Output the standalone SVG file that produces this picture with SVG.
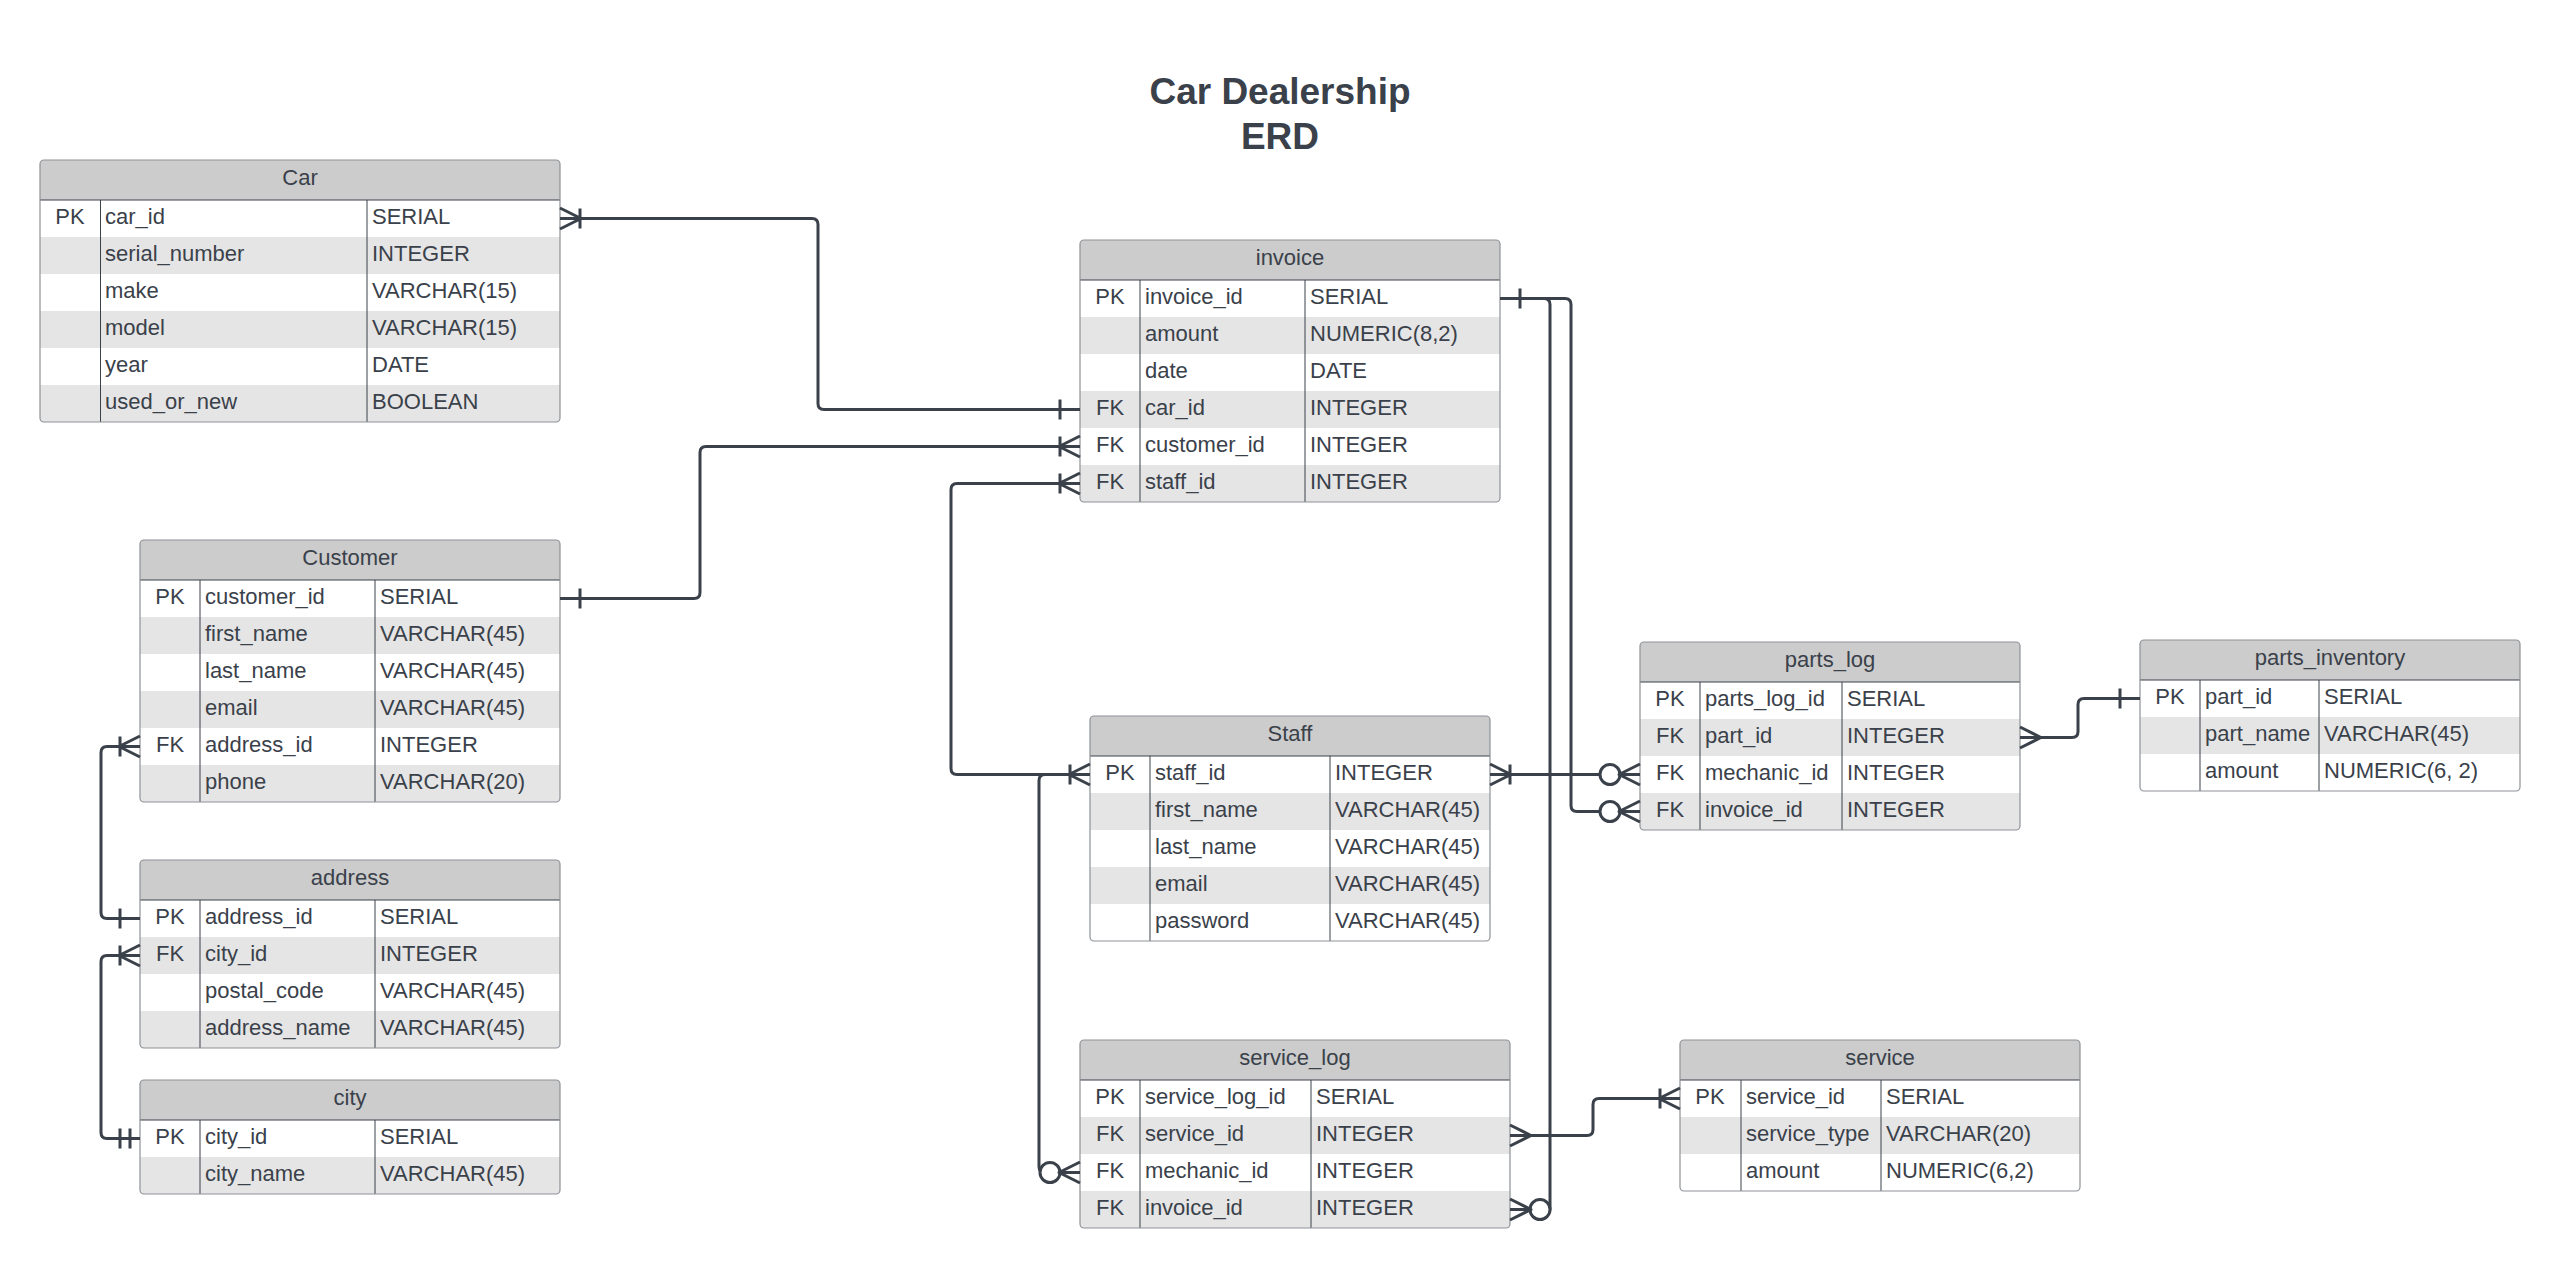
<svg xmlns="http://www.w3.org/2000/svg" width="2560" height="1268" viewBox="0 0 2560 1268">
<style>
.bg{fill:#fff;stroke:none}
.ol{fill:none;stroke:#8e9297;stroke-width:1.2}
.hd{fill:#cccccc}
.st{fill:#e5e5e5}
.dv{stroke:#3a414a;stroke-width:1}
.t{font-family:"Liberation Sans",Arial,sans-serif;font-size:22px;fill:#3a414a}
.c{text-anchor:middle}
.ti{font-family:"Liberation Sans",Arial,sans-serif;font-size:37px;font-weight:bold;fill:#3a414a;text-anchor:middle}
.cn{fill:none;stroke:#3a414a;stroke-width:3;stroke-linejoin:round}
.ci{fill:#fff;stroke:#3a414a;stroke-width:3}
</style>
<rect width="2560" height="1268" fill="#fff"/>
<g id="title">
<text class="ti" x="1280" y="104">Car Dealership</text>
<text class="ti" x="1280" y="149">ERD</text>
</g>

<g id="car">
<rect class="bg" x="40" y="160" width="520" height="262" rx="4"/>
<path class="hd" d="M40,200 V164 Q40,160 44,160 H556 Q560,160 560,164 V200 Z"/>
<rect class="st" x="40" y="237" width="520" height="37"/>
<rect class="st" x="40" y="311" width="520" height="37"/>
<path class="st" d="M40,385 H560 V418 Q560,422 556,422 H44 Q40,422 40,418 Z"/>
<line class="dv" x1="40" y1="200" x2="560" y2="200"/>
<line class="dv" x1="100.5" y1="200" x2="100.5" y2="422"/>
<line class="dv" x1="367" y1="200" x2="367" y2="422"/>
<rect class="ol" x="40" y="160" width="520" height="262" rx="4"/>
<text class="t c" x="300" y="185">Car</text>
<text class="t c" x="70" y="224">PK</text><text class="t" x="105" y="224">car_id</text><text class="t" x="372" y="224">SERIAL</text>
<text class="t" x="105" y="261">serial_number</text><text class="t" x="372" y="261">INTEGER</text>
<text class="t" x="105" y="298">make</text><text class="t" x="372" y="298">VARCHAR(15)</text>
<text class="t" x="105" y="335">model</text><text class="t" x="372" y="335">VARCHAR(15)</text>
<text class="t" x="105" y="372">year</text><text class="t" x="372" y="372">DATE</text>
<text class="t" x="105" y="409">used_or_new</text><text class="t" x="372" y="409">BOOLEAN</text>
</g>

<g id="customer">
<rect class="bg" x="140" y="540" width="420" height="262" rx="4"/>
<path class="hd" d="M140,580 V544 Q140,540 144,540 H556 Q560,540 560,544 V580 Z"/>
<rect class="st" x="140" y="617" width="420" height="37"/>
<rect class="st" x="140" y="691" width="420" height="37"/>
<path class="st" d="M140,765 H560 V798 Q560,802 556,802 H144 Q140,802 140,798 Z"/>
<line class="dv" x1="140" y1="580" x2="560" y2="580"/>
<line class="dv" x1="200" y1="580" x2="200" y2="802"/>
<line class="dv" x1="375" y1="580" x2="375" y2="802"/>
<rect class="ol" x="140" y="540" width="420" height="262" rx="4"/>
<text class="t c" x="350" y="565">Customer</text>
<text class="t c" x="170" y="604">PK</text><text class="t" x="205" y="604">customer_id</text><text class="t" x="380" y="604">SERIAL</text>
<text class="t" x="205" y="641">first_name</text><text class="t" x="380" y="641">VARCHAR(45)</text>
<text class="t" x="205" y="678">last_name</text><text class="t" x="380" y="678">VARCHAR(45)</text>
<text class="t" x="205" y="715">email</text><text class="t" x="380" y="715">VARCHAR(45)</text>
<text class="t c" x="170" y="752">FK</text><text class="t" x="205" y="752">address_id</text><text class="t" x="380" y="752">INTEGER</text>
<text class="t" x="205" y="789">phone</text><text class="t" x="380" y="789">VARCHAR(20)</text>
</g>

<g id="address">
<rect class="bg" x="140" y="860" width="420" height="188" rx="4"/>
<path class="hd" d="M140,900 V864 Q140,860 144,860 H556 Q560,860 560,864 V900 Z"/>
<rect class="st" x="140" y="937" width="420" height="37"/>
<path class="st" d="M140,1011 H560 V1044 Q560,1048 556,1048 H144 Q140,1048 140,1044 Z"/>
<line class="dv" x1="140" y1="900" x2="560" y2="900"/>
<line class="dv" x1="200" y1="900" x2="200" y2="1048"/>
<line class="dv" x1="375" y1="900" x2="375" y2="1048"/>
<rect class="ol" x="140" y="860" width="420" height="188" rx="4"/>
<text class="t c" x="350" y="885">address</text>
<text class="t c" x="170" y="924">PK</text><text class="t" x="205" y="924">address_id</text><text class="t" x="380" y="924">SERIAL</text>
<text class="t c" x="170" y="961">FK</text><text class="t" x="205" y="961">city_id</text><text class="t" x="380" y="961">INTEGER</text>
<text class="t" x="205" y="998">postal_code</text><text class="t" x="380" y="998">VARCHAR(45)</text>
<text class="t" x="205" y="1035">address_name</text><text class="t" x="380" y="1035">VARCHAR(45)</text>
</g>

<g id="city">
<rect class="bg" x="140" y="1080" width="420" height="114" rx="4"/>
<path class="hd" d="M140,1120 V1084 Q140,1080 144,1080 H556 Q560,1080 560,1084 V1120 Z"/>
<path class="st" d="M140,1157 H560 V1190 Q560,1194 556,1194 H144 Q140,1194 140,1190 Z"/>
<line class="dv" x1="140" y1="1120" x2="560" y2="1120"/>
<line class="dv" x1="200" y1="1120" x2="200" y2="1194"/>
<line class="dv" x1="375" y1="1120" x2="375" y2="1194"/>
<rect class="ol" x="140" y="1080" width="420" height="114" rx="4"/>
<text class="t c" x="350" y="1105">city</text>
<text class="t c" x="170" y="1144">PK</text><text class="t" x="205" y="1144">city_id</text><text class="t" x="380" y="1144">SERIAL</text>
<text class="t" x="205" y="1181">city_name</text><text class="t" x="380" y="1181">VARCHAR(45)</text>
</g>

<g id="invoice">
<rect class="bg" x="1080" y="240" width="420" height="262" rx="4"/>
<path class="hd" d="M1080,280 V244 Q1080,240 1084,240 H1496 Q1500,240 1500,244 V280 Z"/>
<rect class="st" x="1080" y="317" width="420" height="37"/>
<rect class="st" x="1080" y="391" width="420" height="37"/>
<path class="st" d="M1080,465 H1500 V498 Q1500,502 1496,502 H1084 Q1080,502 1080,498 Z"/>
<line class="dv" x1="1080" y1="280" x2="1500" y2="280"/>
<line class="dv" x1="1140" y1="280" x2="1140" y2="502"/>
<line class="dv" x1="1305" y1="280" x2="1305" y2="502"/>
<rect class="ol" x="1080" y="240" width="420" height="262" rx="4"/>
<text class="t c" x="1290" y="265">invoice</text>
<text class="t c" x="1110" y="304">PK</text><text class="t" x="1145" y="304">invoice_id</text><text class="t" x="1310" y="304">SERIAL</text>
<text class="t" x="1145" y="341">amount</text><text class="t" x="1310" y="341">NUMERIC(8,2)</text>
<text class="t" x="1145" y="378">date</text><text class="t" x="1310" y="378">DATE</text>
<text class="t c" x="1110" y="415">FK</text><text class="t" x="1145" y="415">car_id</text><text class="t" x="1310" y="415">INTEGER</text>
<text class="t c" x="1110" y="452">FK</text><text class="t" x="1145" y="452">customer_id</text><text class="t" x="1310" y="452">INTEGER</text>
<text class="t c" x="1110" y="489">FK</text><text class="t" x="1145" y="489">staff_id</text><text class="t" x="1310" y="489">INTEGER</text>
</g>

<g id="staff">
<rect class="bg" x="1090" y="716" width="400" height="225" rx="4"/>
<path class="hd" d="M1090,756 V720 Q1090,716 1094,716 H1486 Q1490,716 1490,720 V756 Z"/>
<rect class="st" x="1090" y="793" width="400" height="37"/>
<rect class="st" x="1090" y="867" width="400" height="37"/>
<line class="dv" x1="1090" y1="756" x2="1490" y2="756"/>
<line class="dv" x1="1150" y1="756" x2="1150" y2="941"/>
<line class="dv" x1="1330" y1="756" x2="1330" y2="941"/>
<rect class="ol" x="1090" y="716" width="400" height="225" rx="4"/>
<text class="t c" x="1290" y="741">Staff</text>
<text class="t c" x="1120" y="780">PK</text><text class="t" x="1155" y="780">staff_id</text><text class="t" x="1335" y="780">INTEGER</text>
<text class="t" x="1155" y="817">first_name</text><text class="t" x="1335" y="817">VARCHAR(45)</text>
<text class="t" x="1155" y="854">last_name</text><text class="t" x="1335" y="854">VARCHAR(45)</text>
<text class="t" x="1155" y="891">email</text><text class="t" x="1335" y="891">VARCHAR(45)</text>
<text class="t" x="1155" y="928">password</text><text class="t" x="1335" y="928">VARCHAR(45)</text>
</g>

<g id="service_log">
<rect class="bg" x="1080" y="1040" width="430" height="188" rx="4"/>
<path class="hd" d="M1080,1080 V1044 Q1080,1040 1084,1040 H1506 Q1510,1040 1510,1044 V1080 Z"/>
<rect class="st" x="1080" y="1117" width="430" height="37"/>
<path class="st" d="M1080,1191 H1510 V1224 Q1510,1228 1506,1228 H1084 Q1080,1228 1080,1224 Z"/>
<line class="dv" x1="1080" y1="1080" x2="1510" y2="1080"/>
<line class="dv" x1="1140" y1="1080" x2="1140" y2="1228"/>
<line class="dv" x1="1311" y1="1080" x2="1311" y2="1228"/>
<rect class="ol" x="1080" y="1040" width="430" height="188" rx="4"/>
<text class="t c" x="1295" y="1065">service_log</text>
<text class="t c" x="1110" y="1104">PK</text><text class="t" x="1145" y="1104">service_log_id</text><text class="t" x="1316" y="1104">SERIAL</text>
<text class="t c" x="1110" y="1141">FK</text><text class="t" x="1145" y="1141">service_id</text><text class="t" x="1316" y="1141">INTEGER</text>
<text class="t c" x="1110" y="1178">FK</text><text class="t" x="1145" y="1178">mechanic_id</text><text class="t" x="1316" y="1178">INTEGER</text>
<text class="t c" x="1110" y="1215">FK</text><text class="t" x="1145" y="1215">invoice_id</text><text class="t" x="1316" y="1215">INTEGER</text>
</g>

<g id="service">
<rect class="bg" x="1680" y="1040" width="400" height="151" rx="4"/>
<path class="hd" d="M1680,1080 V1044 Q1680,1040 1684,1040 H2076 Q2080,1040 2080,1044 V1080 Z"/>
<rect class="st" x="1680" y="1117" width="400" height="37"/>
<line class="dv" x1="1680" y1="1080" x2="2080" y2="1080"/>
<line class="dv" x1="1741" y1="1080" x2="1741" y2="1191"/>
<line class="dv" x1="1881" y1="1080" x2="1881" y2="1191"/>
<rect class="ol" x="1680" y="1040" width="400" height="151" rx="4"/>
<text class="t c" x="1880" y="1065">service</text>
<text class="t c" x="1710" y="1104">PK</text><text class="t" x="1746" y="1104">service_id</text><text class="t" x="1886" y="1104">SERIAL</text>
<text class="t" x="1746" y="1141">service_type</text><text class="t" x="1886" y="1141">VARCHAR(20)</text>
<text class="t" x="1746" y="1178">amount</text><text class="t" x="1886" y="1178">NUMERIC(6,2)</text>
</g>

<g id="parts_log">
<rect class="bg" x="1640" y="642" width="380" height="188" rx="4"/>
<path class="hd" d="M1640,682 V646 Q1640,642 1644,642 H2016 Q2020,642 2020,646 V682 Z"/>
<rect class="st" x="1640" y="719" width="380" height="37"/>
<path class="st" d="M1640,793 H2020 V826 Q2020,830 2016,830 H1644 Q1640,830 1640,826 Z"/>
<line class="dv" x1="1640" y1="682" x2="2020" y2="682"/>
<line class="dv" x1="1700" y1="682" x2="1700" y2="830"/>
<line class="dv" x1="1842" y1="682" x2="1842" y2="830"/>
<rect class="ol" x="1640" y="642" width="380" height="188" rx="4"/>
<text class="t c" x="1830" y="667">parts_log</text>
<text class="t c" x="1670" y="706">PK</text><text class="t" x="1705" y="706">parts_log_id</text><text class="t" x="1847" y="706">SERIAL</text>
<text class="t c" x="1670" y="743">FK</text><text class="t" x="1705" y="743">part_id</text><text class="t" x="1847" y="743">INTEGER</text>
<text class="t c" x="1670" y="780">FK</text><text class="t" x="1705" y="780">mechanic_id</text><text class="t" x="1847" y="780">INTEGER</text>
<text class="t c" x="1670" y="817">FK</text><text class="t" x="1705" y="817">invoice_id</text><text class="t" x="1847" y="817">INTEGER</text>
</g>

<g id="parts_inventory">
<rect class="bg" x="2140" y="640" width="380" height="151" rx="4"/>
<path class="hd" d="M2140,680 V644 Q2140,640 2144,640 H2516 Q2520,640 2520,644 V680 Z"/>
<rect class="st" x="2140" y="717" width="380" height="37"/>
<line class="dv" x1="2140" y1="680" x2="2520" y2="680"/>
<line class="dv" x1="2200" y1="680" x2="2200" y2="791"/>
<line class="dv" x1="2319" y1="680" x2="2319" y2="791"/>
<rect class="ol" x="2140" y="640" width="380" height="151" rx="4"/>
<text class="t c" x="2330" y="665">parts_inventory</text>
<text class="t c" x="2170" y="704">PK</text><text class="t" x="2205" y="704">part_id</text><text class="t" x="2324" y="704">SERIAL</text>
<text class="t" x="2205" y="741">part_name</text><text class="t" x="2324" y="741">VARCHAR(45)</text>
<text class="t" x="2205" y="778">amount</text><text class="t" x="2324" y="778">NUMERIC(6, 2)</text>
</g>

<g id="connectors">
<!-- Car - invoice -->
<path class="cn" d="M560,218.5 H812 Q818,218.5 818,224.5 V403.5 Q818,409.5 824,409.5 H1080"/>
<path class="cn" d="M560,208 L581,218.5 L560,229 M580,208.5 V228.5"/>
<path class="cn" d="M1060,399.5 V419.5"/>
<!-- Customer - invoice -->
<path class="cn" d="M560,598.5 H694 Q700,598.5 700,592.5 V452.5 Q700,446.5 706,446.5 H1080"/>
<path class="cn" d="M580,588.5 V608.5"/>
<path class="cn" d="M1080,436 L1059,446.5 L1080,457 M1060,436.5 V456.5"/>
<!-- Staff - invoice -->
<path class="cn" d="M1090,774.5 H957 Q951,774.5 951,768.5 V489.5 Q951,483.5 957,483.5 H1080"/>
<path class="cn" d="M1080,473 L1059,483.5 L1080,494 M1060,473.5 V493.5"/>
<path class="cn" d="M1090,764 L1069,774.5 L1090,785 M1070,764.5 V784.5"/>
<!-- Staff - service_log mechanic -->
<path class="cn" d="M1060,774.5 H1045 Q1039,774.5 1039,780.5 V1166.5 Q1039,1172.5 1045,1172.5 H1080"/>
<circle class="ci" cx="1050" cy="1172.5" r="10"/>
<path class="cn" d="M1080,1162 L1059,1172.5 L1080,1183"/>
<!-- Staff - parts_log mechanic -->
<path class="cn" d="M1490,774.5 H1640"/>
<path class="cn" d="M1490,764 L1511,774.5 L1490,785 M1510,764.5 V784.5"/>
<circle class="ci" cx="1610" cy="774.5" r="10"/>
<path class="cn" d="M1640,764 L1619,774.5 L1640,785"/>
<!-- invoice - parts_log -->
<path class="cn" d="M1500,298.5 H1565 Q1571,298.5 1571,304.5 V805.5 Q1571,811.5 1577,811.5 H1640"/>
<circle class="ci" cx="1610" cy="811.5" r="10"/>
<path class="cn" d="M1640,801 L1619,811.5 L1640,822"/>
<!-- invoice - service_log -->
<path class="cn" d="M1500,298.5 H1544 Q1550,298.5 1550,304.5 V1209.5 H1510"/>
<path class="cn" d="M1520,288.5 V308.5"/>
<circle class="ci" cx="1540" cy="1209.5" r="10"/>
<path class="cn" d="M1510,1199 L1531,1209.5 L1510,1220"/>
<!-- service_log - service -->
<path class="cn" d="M1510,1135.5 H1587 Q1593,1135.5 1593,1129.5 V1104.5 Q1593,1098.5 1599,1098.5 H1680"/>
<path class="cn" d="M1510,1125 L1531,1135.5 L1510,1146"/>
<path class="cn" d="M1680,1088 L1659,1098.5 L1680,1109 M1660,1088.5 V1108.5"/>
<!-- parts_log - parts_inventory -->
<path class="cn" d="M2020,737.5 H2072 Q2078,737.5 2078,731.5 V704.5 Q2078,698.5 2084,698.5 H2140"/>
<path class="cn" d="M2020,727 L2041,737.5 L2020,748"/>
<path class="cn" d="M2120,688.5 V708.5"/>
<!-- Customer - address -->
<path class="cn" d="M140,746.5 H107 Q101,746.5 101,752.5 V912.5 Q101,918.5 107,918.5 H140"/>
<path class="cn" d="M140,736 L119,746.5 L140,757 M120,736.5 V756.5"/>
<path class="cn" d="M120,908.5 V928.5"/>
<!-- address - city -->
<path class="cn" d="M140,955.5 H107 Q101,955.5 101,961.5 V1132.5 Q101,1138.5 107,1138.5 H140"/>
<path class="cn" d="M140,945 L119,955.5 L140,966 M120,945.5 V965.5"/>
<path class="cn" d="M120,1128.5 V1148.5 M130,1128.5 V1148.5"/>
</g>
</svg>
